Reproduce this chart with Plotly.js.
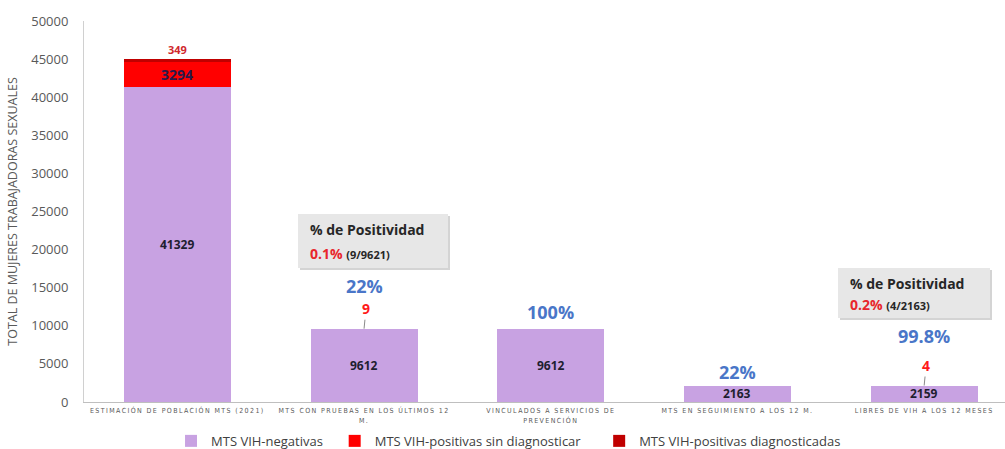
<!DOCTYPE html>
<html><head><meta charset="utf-8">
<script src="https://cdn.plot.ly/plotly-3.0.1.min.js"></script>
<style>body{margin:0;background:#fff}#c{width:1005px;height:449px}
.xtick text{letter-spacing:1.4px}</style>
</head><body><div id="c"></div>
<script>
const categories = [
  "ESTIMACIÓN DE POBLACIÓN MTS (2021)",
  "MTS CON PRUEBAS EN LOS ÚLTIMOS 12<br>M.",
  "VINCULADOS A SERVICIOS DE<br>PREVENCIÓN",
  "MTS EN SEGUIMIENTO A LOS 12 M.",
  "LIBRES DE VIH A LOS 12 MESES"
];
const negativas = [41329, 9612, 9612, 2163, 2159];
const sinDiagnosticar = [3294, 9, 0, 0, 4];
const diagnosticadas = [349, 0, 0, 0, 0];
const percentLabels = ["", "22%", "100%", "22%", "99.8%"];
const seriesNames = ["MTS VIH-negativas", "MTS VIH-positivas sin diagnosticar", "MTS VIH-positivas diagnosticadas"];
const boxTitles = ["% de Positividad", "% de Positividad"];
const boxRates = ["0.1%", "0.2%"];
const boxRatios = ["(9/9621)", "(4/2163)"];

const idx = categories.map((_, i) => i);
const colors = ["#C8A2E2", "#FF0000", "#C00000"];
const FONT = "Open Sans, Noto Sans, sans-serif";
const pads = ["\u00a0\u00a0", "\u00a0\u00a0\u00a0\u00a0", ""];

const traces = [negativas, sinDiagnosticar, diagnosticadas].map((v, k) => ({
  type: "bar", x: idx, y: v, name: seriesNames[k] + pads[k],
  marker: {color: colors[k], line: {width: 0}}, hoverinfo: "skip"
}));

const ann = [];
idx.forEach(i => {
  ann.push({x: i, y: negativas[i] / 2, xref: "x", yref: "y", text: "<b>" + negativas[i] + "</b>",
    showarrow: false, font: {family: FONT, size: 12, color: "#1E1E30"}});
});
ann.push({x: 0, y: negativas[0] + sinDiagnosticar[0] / 2, xref: "x", yref: "y",
  text: "<b>" + sinDiagnosticar[0] + "</b>", showarrow: false,
  font: {family: FONT, size: 14, color: "#2A1A4A"}});
ann.push({x: 0, y: negativas[0] + sinDiagnosticar[0] + diagnosticadas[0], xref: "x", yref: "y",
  text: "<b>" + diagnosticadas[0] + "</b>", showarrow: false, yanchor: "bottom", yshift: 0,
  font: {family: FONT, size: 11, color: "#D0282E"}});
[1, 4].forEach(i => {
  ann.push({x: i, y: negativas[i] + sinDiagnosticar[i], xref: "x", yref: "y",
    text: "<b>" + sinDiagnosticar[i] + "</b>", showarrow: true, arrowhead: 0, arrowwidth: 1,
    arrowcolor: "#8a8a8a", ax: 2, ay: -20, standoff: 0,
    font: {family: FONT, size: 14, color: "#FF1A1A"}});
});
const pctShift = [0, 43, 17, 14, 50];
idx.forEach(i => {
  if (!percentLabels[i]) return;
  ann.push({x: i, y: negativas[i] + sinDiagnosticar[i] + diagnosticadas[i], xref: "x", yref: "y",
    text: "<b>" + percentLabels[i] + "</b>", showarrow: false, yanchor: "middle", yshift: pctShift[i],
    font: {family: FONT, size: 18, color: "#4A76C8"}});
});
const boxes = [
  {x0: 298, x1: 448, y0: 214, y1: 268, tx: 308, ty1: 229, ty2: 253},
  {x0: 838, x1: 990, y0: 268, y1: 318, tx: 848, ty1: 283, ty2: 304}
];
const px = p => (p - 84) / 921, py = p => (402 - p) / 381;
const shapes = [];
boxes.forEach((b, k) => {
  shapes.push({type: "rect", xref: "paper", yref: "paper", x0: px(b.x0 + 2), x1: px(b.x1 + 2), y0: py(b.y1 + 2), y1: py(b.y0 + 2),
    fillcolor: "#d4d4d4", line: {width: 0}, layer: "above"});
  shapes.push({type: "rect", xref: "paper", yref: "paper", x0: px(b.x0), x1: px(b.x1), y0: py(b.y1), y1: py(b.y0),
    fillcolor: "#E7E7E7", line: {width: 0}, layer: "above"});
  ann.push({xref: "paper", yref: "paper", x: px(b.tx), y: py(b.ty1), xanchor: "left", yanchor: "middle",
    text: "<b>" + boxTitles[k] + "</b>", showarrow: false, font: {family: FONT, size: 14, color: "#262626"}});
  ann.push({xref: "paper", yref: "paper", x: px(b.tx), y: py(b.ty2), xanchor: "left", yanchor: "middle",
    text: "<b><span style='color:#E8262C'>" + boxRates[k] + "</span></b> <b><span style='font-size:11px'>" + boxRatios[k] + "</span></b>",
    showarrow: false, font: {family: FONT, size: 14, color: "#262626"}});
});

const layout = {
  width: 1005, height: 449, barmode: "stack", bargap: 0.427,
  margin: {l: 84, r: 0, t: 21, b: 47},
  paper_bgcolor: "#fff", plot_bgcolor: "#fff",
  font: {family: FONT, color: "#595959"},
  showlegend: true,
  legend: {orientation: "h", xref: "container", yref: "container", x: 0.506, xanchor: "center",
    y: 0.018, yanchor: "middle", font: {family: FONT, size: 13, color: "#404040"},
    itemwidth: 30, traceorder: "normal"},
  xaxis: {range: [-0.5, 4.433], tickvals: idx, ticktext: categories, tickangle: 0,
    tickfont: {family: "DejaVu Sans Condensed, Liberation Sans Narrow, sans-serif", size: 7, color: "#595959"},
    showgrid: false, zeroline: false, showline: true, linecolor: "#BFBFBF", linewidth: 1,
    ticks: "outside", ticklen: 2, tickcolor: "rgba(0,0,0,0)", automargin: false, fixedrange: true},
  yaxis: {range: [0, 50000], dtick: 5000, tickformat: "d", showgrid: false, zeroline: false, showline: true,
    linecolor: "#D0D0D0", linewidth: 1, ticks: "outside", ticklen: 12, tickcolor: "rgba(0,0,0,0)",
    tickfont: {family: FONT, size: 13, color: "#595959"}, automargin: false,
    title: {text: "TOTAL DE MUJERES TRABAJADORAS SEXUALES", standoff: 10,
      font: {family: FONT, size: 12.5, color: "#595959"}}},
  annotations: ann, shapes: shapes
};
Plotly.newPlot("c", traces, layout, {displayModeBar: false, staticPlot: true});
</script></body></html>
